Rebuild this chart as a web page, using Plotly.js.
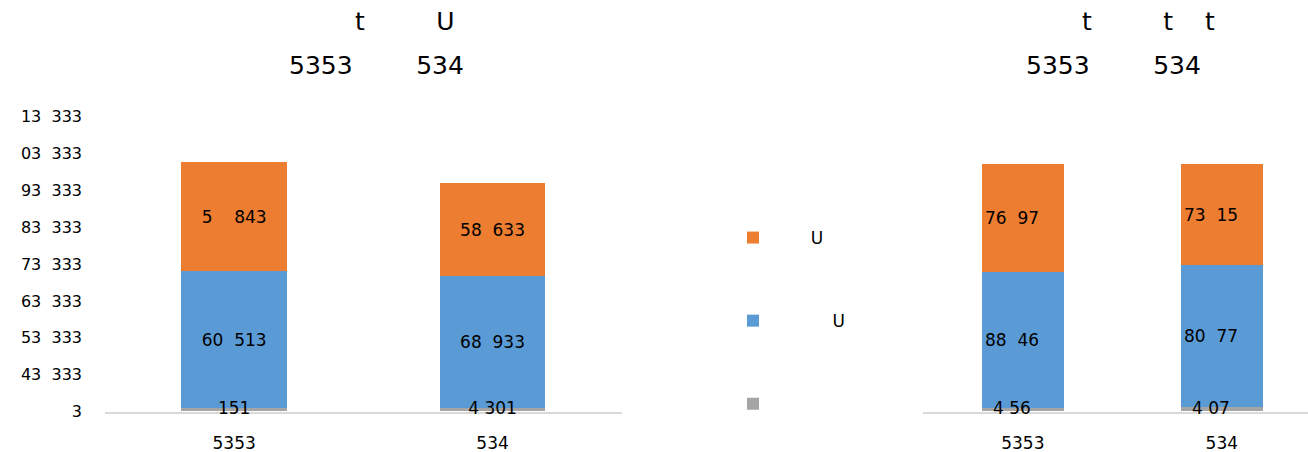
<!DOCTYPE html>
<html>
<head>
<meta charset="utf-8">
<script src="https://cdn.plot.ly/plotly-3.0.1.min.js"></script>
<style>html,body{margin:0;padding:0;background:#fff;}#chart{width:1308px;height:452px;}</style>
</head>
<body>
<div id="chart"></div>
<script>
// ---- data ----
var categories = ["5353", "534"];

var leftGray   = [828, 1078];
var leftBlue   = [37280, 35600];
var leftOrange = [29510, 25300];
var leftGrayText   = ["151", "4\u00a0301"];
var leftBlueText   = ["60\u00a0\u00a0513", "68\u00a0\u00a0933"];
var leftOrangeText = ["5\u00a0\u00a0\u00a0\u00a0843", "58\u00a0\u00a0633"];

var rightGray   = [1.23, 1.74];
var rightBlue   = [55.13, 57.44];
var rightOrange = [43.64, 40.82];
var rightGrayText   = ["4\u00a056\u00a0\u00a0\u00a0\u00a0", "4\u00a007\u00a0\u00a0\u00a0\u00a0"];
var rightBlueText   = ["88\u00a0\u00a046\u00a0\u00a0\u00a0\u00a0", "80\u00a0\u00a077\u00a0\u00a0\u00a0\u00a0"];
var rightOrangeText = ["76\u00a0\u00a097\u00a0\u00a0\u00a0\u00a0", "73\u00a0\u00a015\u00a0\u00a0\u00a0\u00a0"];

var yTickVals = [0, 10000, 20000, 30000, 40000, 50000, 60000, 70000, 80000];
var yTickText = ["3", "43\u00a0\u00a0333", "53\u00a0\u00a0333", "63\u00a0\u00a0333", "73\u00a0\u00a0333",
                 "83\u00a0\u00a0333", "93\u00a0\u00a0333", "03\u00a0\u00a0333", "13\u00a0\u00a0333"];

var seriesNames = ["\u00a0", "\u00a0".repeat(11) + "U", "\u00a0".repeat(7) + "U"]; // gray, blue, orange
var leftTitleLines  = ["t" + "\u00a0".repeat(9) + "U", "5353" + "\u00a0".repeat(8) + "534"];
var rightTitleLines = ["t" + "\u00a0".repeat(9) + "t" + "\u00a0".repeat(4) + "t", "5353" + "\u00a0".repeat(8) + "534"];

// ---- styles ----
var cGray = "#A5A5A5", cBlue = "#5B9BD5", cOrange = "#ED7D31";
var FONT = "DejaVu Sans";
var labelFont = {family: FONT, size: 17, color: "#000"};
var titleFont = {family: FONT, size: 25, color: "#000"};

function barTrace(y, text, color, name, xa, ya, show, grp, rank) {
  return {
    type: "bar", x: categories, y: y, text: text, name: name,
    xaxis: xa, yaxis: ya, showlegend: show, legendgroup: grp, legendrank: rank,
    marker: {color: color}, cliponaxis: false,
    textposition: text ? "inside" : "none", insidetextanchor: "middle", constraintext: "none",
    textangle: 0, textfont: labelFont, hoverinfo: "skip"
  };
}

// labels of the thin bottom segments, drawn above the stacked bars
function segLabel(vals, text, xa, ya) {
  return {
    type: "scatter", mode: "text", x: categories, y: vals.map(function (v) { return v / 2; }),
    text: text, textposition: "middle center", textfont: labelFont,
    xaxis: xa, yaxis: ya, showlegend: false, cliponaxis: false, hoverinfo: "skip"
  };
}

var data = [
  barTrace(leftGray, null, cGray, seriesNames[0], "x", "y", true, "g", 3),
  barTrace(leftBlue, leftBlueText, cBlue, seriesNames[1], "x", "y", true, "b", 2),
  barTrace(leftOrange, leftOrangeText, cOrange, seriesNames[2], "x", "y", true, "o", 1),
  barTrace(rightGray, null, cGray, seriesNames[0], "x2", "y2", false, "g", 3),
  barTrace(rightBlue, rightBlueText, cBlue, seriesNames[1], "x2", "y2", false, "b", 2),
  barTrace(rightOrange, rightOrangeText, cOrange, seriesNames[2], "x2", "y2", false, "o", 1),
  segLabel(leftGray, leftGrayText, "x", "y"),
  segLabel(rightGray, rightGrayText, "x2", "y2")
];

var W = 1308, H = 452;
var yDom = [(H - 411.5) / H, (H - 116.7) / H];

var layout = {
  width: W, height: H,
  margin: {l: 0, r: 0, t: 0, b: 0},
  paper_bgcolor: "#fff", plot_bgcolor: "#fff",
  barmode: "stack", bargap: 0.59,
  font: {family: FONT, size: 16, color: "#000"},
  showlegend: true,
  legend: {
    x: 733 / W, y: (H - 220) / H, xanchor: "left", yanchor: "top",
    traceorder: "grouped", tracegroupgap: 58,
    font: {family: FONT, size: 17, color: "#000"},
    bgcolor: "rgba(0,0,0,0)"
  },
  xaxis: {
    domain: [105 / W, 621.7 / W], range: [-0.5, 1.5], type: "category",
    showline: true, linecolor: "#D9D9D9", linewidth: 2, layer: "below traces",
    showgrid: false, zeroline: false, ticks: "", ticklabelstandoff: 15,
    tickfont: {family: FONT, size: 17, color: "#000"}, fixedrange: true
  },
  yaxis: {
    domain: yDom, range: [0, 80000], tickmode: "array",
    tickvals: yTickVals, ticktext: yTickText,
    showline: false, showgrid: false, zeroline: false, ticks: "", ticklabelstandoff: 22,
    tickfont: {family: FONT, size: 16, color: "#000"}, fixedrange: true
  },
  xaxis2: {
    domain: [923.3 / W, 1], range: [-0.5, 1.433], type: "category", anchor: "y2",
    showline: true, linecolor: "#D9D9D9", linewidth: 2, layer: "below traces",
    showgrid: false, zeroline: false, ticks: "", ticklabelstandoff: 15,
    tickfont: {family: FONT, size: 17, color: "#000"}, fixedrange: true
  },
  yaxis2: {
    domain: yDom, range: [0, 119.3], anchor: "x2", visible: false, fixedrange: true
  },
  annotations: [
    {xref: "paper", yref: "paper", x: 353 / W, y: 1 - 22 / H, xanchor: "left", yanchor: "middle",
     text: leftTitleLines[0], showarrow: false, font: titleFont},
    {xref: "paper", yref: "paper", x: 287 / W, y: 1 - 65 / H, xanchor: "left", yanchor: "middle",
     text: leftTitleLines[1], showarrow: false, font: titleFont},
    {xref: "paper", yref: "paper", x: 1080 / W, y: 1 - 22 / H, xanchor: "left", yanchor: "middle",
     text: rightTitleLines[0], showarrow: false, font: titleFont},
    {xref: "paper", yref: "paper", x: 1024 / W, y: 1 - 65 / H, xanchor: "left", yanchor: "middle",
     text: rightTitleLines[1], showarrow: false, font: titleFont}
  ]
};

Plotly.newPlot("chart", data, layout, {staticPlot: true, displayModeBar: false});
</script>
</body>
</html>
